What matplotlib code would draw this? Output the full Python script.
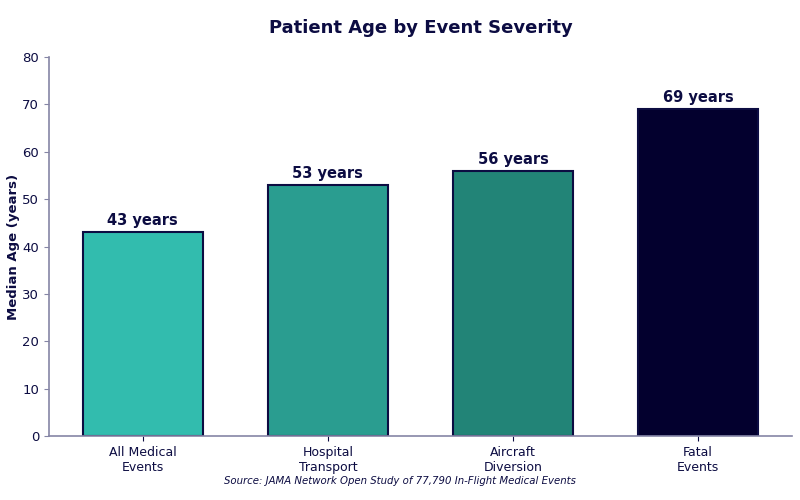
import matplotlib
matplotlib.use("Agg")
import matplotlib.pyplot as plt

categories = ["All Medical\nEvents", "Hospital\nTransport", "Aircraft\nDiversion", "Fatal\nEvents"]
values = [43, 53, 56, 69]
colors = ["#32BCAE", "#2A9D90", "#228477", "#03002E"]
navy = "#0C0C42"

fig = plt.figure(figsize=(8, 5), dpi=100)
ax = fig.add_axes([0.061, 0.128, 0.929, 0.758])
x = range(len(values))
bars = ax.bar(x, values, width=0.65, color=colors, edgecolor=navy, linewidth=1.5)
for b, v in zip(bars, values):
    ax.text(b.get_x() + b.get_width() / 2, v + 0.8, f"{v} years", ha="center", va="bottom",
            fontsize=10.5, fontweight="bold", color=navy)
ax.set_xticks(list(x))
ax.set_xticklabels(categories, fontsize=9, color=navy)
ax.set_ylim(0, 80)
ax.set_yticks(range(0, 81, 10))
ax.tick_params(axis="y", labelsize=9.5, colors=navy)
ax.tick_params(axis="both", color="#8585A5")
ax.tick_params(axis="x", colors=navy)
for s in ["top", "right"]:
    ax.spines[s].set_visible(False)
for s in ["left", "bottom"]:
    ax.spines[s].set_color("#8585A5")
    ax.spines[s].set_linewidth(1.2)
ax.set_ylabel("Median Age (years)", fontsize=9.5, fontweight="bold", color=navy)
ax.yaxis.set_label_coords(-0.039, 0.5)
ax.set_title("Patient Age by Event Severity", fontsize=13, fontweight="bold", color=navy, pad=17)
fig.text(0.5, 0.038, "Source: JAMA Network Open Study of 77,790 In-Flight Medical Events",
         ha="center", va="center", fontsize=7.3, style="italic", color=navy)
fig.savefig("out.png", dpi=100)
